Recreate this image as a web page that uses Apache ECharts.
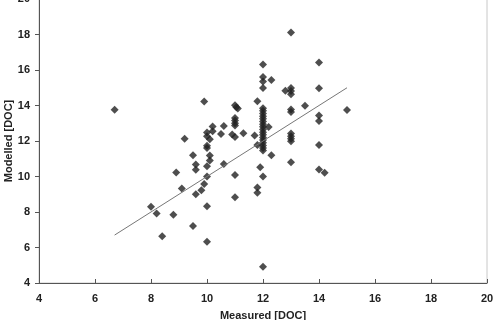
<!DOCTYPE html>
<html>
<head>
<meta charset="utf-8">
<script src="https://cdn.jsdelivr.net/npm/echarts@6/dist/echarts.min.js"></script>
<style>
html,body{margin:0;padding:0;background:#fff;}
#chart{width:494px;height:320px;}
</style>
</head>
<body>
<div id="chart"></div>
<script>
var measured = [6.7, 8.0, 8.2, 8.4, 8.8, 8.9, 9.1, 9.2, 9.5, 9.5, 9.6, 9.6, 9.6, 9.8, 9.9, 9.9,
  10.0, 10.0, 10.0, 10.0, 10.0, 10.0, 10.0, 10.0, 10.1, 10.1, 10.1, 10.2, 10.2, 10.5, 10.6, 10.6,
  10.9, 11.0, 11.0, 11.0, 11.0, 11.0, 11.0, 11.0, 11.0, 11.05, 11.1, 11.3, 11.7, 11.8, 11.8, 11.8, 11.8, 11.9,
  12.0, 12.0, 12.0, 12.0, 12.0, 12.0, 12.0, 12.0, 12.0, 12.0, 12.0, 12.0, 12.0, 12.0, 12.0, 12.0, 12.0, 12.0, 12.0, 12.0, 12.0, 12.0, 12.0,
  12.2, 12.3, 12.3, 12.8, 13.0, 13.0, 13.0, 13.0, 13.0, 13.0, 13.0, 13.0, 13.0, 13.0, 13.0,
  13.5, 14.0, 14.0, 14.0, 14.0, 14.0, 14.0, 14.2, 15.0];
var modelled = [13.76, 8.3, 7.91, 6.63, 7.85, 10.22, 9.32, 12.12, 11.2, 7.21, 10.68, 10.38, 9.0, 9.23, 9.58, 14.23,
  12.48, 12.27, 11.73, 11.61, 10.58, 10.0, 8.32, 6.33, 12.1, 11.18, 10.9, 12.82, 12.55, 12.4, 12.84, 10.71,
  12.36, 14.02, 13.3, 13.15, 13.0, 12.87, 12.22, 10.09, 8.83, 13.9, 13.83, 12.43, 12.31, 14.24, 11.78, 9.38, 9.09, 10.52,
  16.31, 15.6, 15.35, 14.98, 13.85, 13.7, 13.55, 13.4, 13.25, 13.1, 12.95, 12.8, 12.65, 12.5, 12.35, 12.2, 12.05, 11.9, 11.75, 11.6, 11.46, 10.0, 4.92,
  12.79, 15.44, 11.2, 14.83, 18.11, 14.98, 14.82, 14.63, 13.78, 13.64, 12.42, 12.27, 12.12, 11.98, 10.8,
  13.98, 16.42, 14.97, 13.43, 13.12, 11.78, 10.4, 10.21, 13.75];
var trendX = [6.7, 15.0];
var trendY = [6.7, 15.0];
var xTicks = [4, 6, 8, 10, 12, 14, 16, 18, 20];
var yTicks = [4, 6, 8, 10, 12, 14, 16, 18, 20];

var points = measured.map(function (x, i) { return [x, modelled[i]]; });
var trend = trendX.map(function (x, i) { return [x, trendY[i]]; });

var font = 'Liberation Sans, Arial, sans-serif';
var chart = echarts.init(document.getElementById('chart'), null, {renderer: 'canvas'});
chart.setOption({
  animation: false,
  backgroundColor: '#fff',
  grid: {left: 39, right: 7, top: -1, bottom: 37, containLabel: false, outerBoundsMode: 'none',
    show: true, borderColor: '#c8c8c8', borderWidth: 1},
  xAxis: {
    type: 'value', min: xTicks[0], max: xTicks[xTicks.length - 1], interval: 2,
    name: 'Measured [DOC]', nameLocation: 'middle', nameGap: 27, nameMoveOverlap: false,
    nameTextStyle: {fontFamily: font, fontWeight: 'bold', fontSize: 11, color: '#222'},
    axisLine: {lineStyle: {color: '#555', width: 1}},
    axisTick: {inside: true, length: 4, lineStyle: {color: '#555'}},
    axisLabel: {fontFamily: font, fontWeight: 'bold', fontSize: 11, color: '#222', margin: 10},
    splitLine: {show: false}
  },
  yAxis: {
    type: 'value', min: yTicks[0], max: yTicks[yTicks.length - 1], interval: 2,
    name: 'Modelled [DOC]', nameLocation: 'middle', nameGap: 25, nameRotate: 90, nameMoveOverlap: false,
    nameTextStyle: {fontFamily: font, fontWeight: 'bold', fontSize: 11, color: '#222'},
    axisLine: {show: true, lineStyle: {color: '#555', width: 1}},
    axisTick: {show: true, length: 4, lineStyle: {color: '#555'}},
    axisLabel: {fontFamily: font, fontWeight: 'bold', fontSize: 11, color: '#222', margin: 9},
    splitLine: {show: false}
  },
  series: [
    {
      type: 'scatter', data: points, symbol: 'diamond', symbolSize: 8,
      itemStyle: {color: '#222'}
    },
    {
      type: 'line', data: trend, symbol: 'none',
      lineStyle: {color: '#777', width: 1}
    }
  ]
});
</script>
</body>
</html>
